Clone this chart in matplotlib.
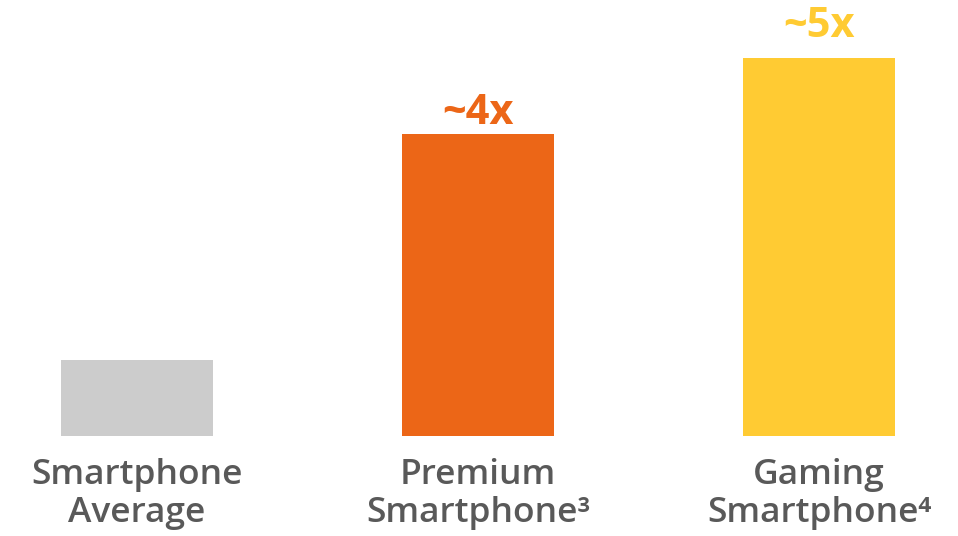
import matplotlib
matplotlib.use("Agg")
import matplotlib.pyplot as plt
from matplotlib.transforms import blended_transform_factory

categories = ["Smartphone\nAverage", "Premium\nSmartphone³", "Gaming\nSmartphone⁴"]
values = [1.0, 4.0, 5.0]
value_labels = ["", "~4x", "~5x"]
colors = ["#CCCCCC", "#EC6617", "#FFCB33"]
label_pad = [0, 7, 15]  # points from bar top to text baseline

plt.rcParams["font.family"] = ["Open Sans", "DejaVu Sans"]

fig = plt.figure(figsize=(9.58, 5.36), dpi=100)
ax = fig.add_axes([0.001, 0.1866, 1, 0.8134])

x = list(range(len(categories)))
ax.bar(x, values, width=0.446, color=colors)

for xi, v, lab, c, pad in zip(x, values, value_labels, colors, label_pad):
    if lab:
        ax.annotate(lab, (xi, v), xytext=(0, pad), textcoords="offset points",
                    ha="center", va="baseline", fontsize=30, fontweight="bold", color=c)

trans = blended_transform_factory(ax.transData, fig.transFigure)
for xi, cat in zip(x, categories):
    ax.text(xi, 1 - 494 / 536, cat, transform=trans, ha="center", va="center",
            fontsize=25.5, fontweight="semibold", color="#595959", linespacing=1.17)

ax.set_xlim(-0.399, 2.41)
ax.set_ylim(0, 5.767)
ax.axis("off")

fig.savefig("out.png", dpi=100)
